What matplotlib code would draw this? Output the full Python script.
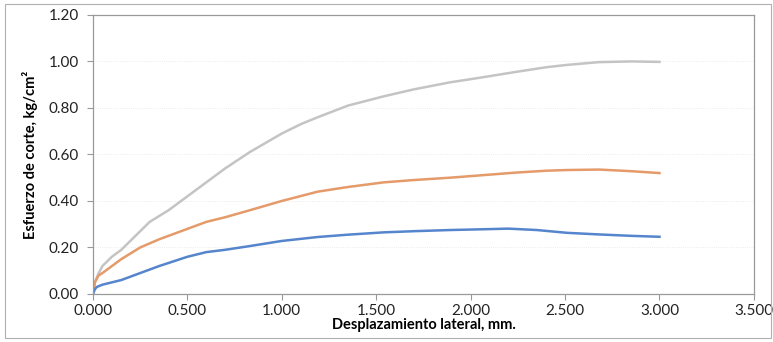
import matplotlib.pyplot as plt

plt.rcParams['font.family'] = ['Lato', 'DejaVu Sans']

# Displacement (mm) and shear stress (kg/cm2)
x_blue = [0.0, 0.01, 0.02, 0.05, 0.10, 0.15, 0.25, 0.35, 0.50, 0.60, 0.70, 0.83, 1.00,
          1.19, 1.35, 1.54, 1.70, 1.89, 2.05, 2.20, 2.35, 2.51, 2.68, 2.85, 3.00]
y_blue = [0.0, 0.02, 0.03, 0.04, 0.05, 0.06, 0.09, 0.12, 0.16, 0.18, 0.19, 0.206, 0.228,
          0.245, 0.255, 0.265, 0.270, 0.275, 0.278, 0.281, 0.275, 0.263, 0.256, 0.25, 0.246]

x_orange = [0.0, 0.01, 0.03, 0.05, 0.10, 0.15, 0.25, 0.35, 0.50, 0.60, 0.70, 0.83, 1.00,
            1.19, 1.35, 1.54, 1.70, 1.89, 2.05, 2.24, 2.40, 2.51, 2.68, 2.85, 3.00]
y_orange = [0.0, 0.05, 0.08, 0.09, 0.12, 0.15, 0.20, 0.235, 0.28, 0.31, 0.33, 0.36, 0.40,
            0.44, 0.46, 0.48, 0.49, 0.50, 0.51, 0.522, 0.53, 0.533, 0.535, 0.528, 0.52]

x_gray = [0.0, 0.01, 0.03, 0.05, 0.10, 0.15, 0.20, 0.25, 0.30, 0.40, 0.50, 0.60, 0.70, 0.83,
          1.00, 1.10, 1.19, 1.35, 1.54, 1.70, 1.89, 2.05, 2.24, 2.40, 2.51, 2.68, 2.85, 3.00]
y_gray = [0.0, 0.05, 0.09, 0.12, 0.16, 0.19, 0.23, 0.27, 0.31, 0.36, 0.42, 0.48, 0.54, 0.61,
          0.69, 0.73, 0.76, 0.81, 0.85, 0.88, 0.91, 0.93, 0.955, 0.975, 0.985, 0.997, 1.0, 0.998]

fig = plt.figure(figsize=(7.73, 3.42), dpi=100)
ax = fig.add_axes([0.1203, 0.1404, 0.855, 0.816])

ax.plot(x_gray, y_gray, color='#c4c4c4', lw=1.8)
ax.plot(x_orange, y_orange, color='#e59a6a', lw=1.8)
ax.plot(x_blue, y_blue, color='#5585cc', lw=1.8)

ax.set_xlim(0, 3.5)
ax.set_ylim(0, 1.2)
ax.set_xticks([0, 0.5, 1.0, 1.5, 2.0, 2.5, 3.0, 3.5])
ax.set_yticks([0, 0.2, 0.4, 0.6, 0.8, 1.0, 1.2])
ax.xaxis.set_major_formatter(plt.FuncFormatter(lambda v, p: f'{v:.3f}'))
ax.yaxis.set_major_formatter(plt.FuncFormatter(lambda v, p: f'{v:.2f}'))
ax.tick_params(axis='both', labelsize=11, length=4, color='#999999', labelcolor='#222222')
ax.tick_params(axis='x', pad=3)
ax.tick_params(axis='y', pad=6)
ax.grid(axis='y', color='#e6e6e6', lw=0.6, ls=':')

for s in ax.spines.values():
    s.set_color('#9a9a9a')
    s.set_linewidth(0.9)

ax.set_xlabel('Desplazamiento lateral, mm.', fontsize=10.5, fontweight='bold', labelpad=0.5)
ax.set_ylabel('Esfuerzo de corte, kg/cm²', fontsize=10.5, fontweight='bold', labelpad=8)

# outer chart border
fig.patches.append(plt.Rectangle((0.007, 0.012), 0.99, 0.975, transform=fig.transFigure,
                                 fill=False, edgecolor='#b0b0b0', lw=0.8))

plt.savefig('out.png', dpi=100)
